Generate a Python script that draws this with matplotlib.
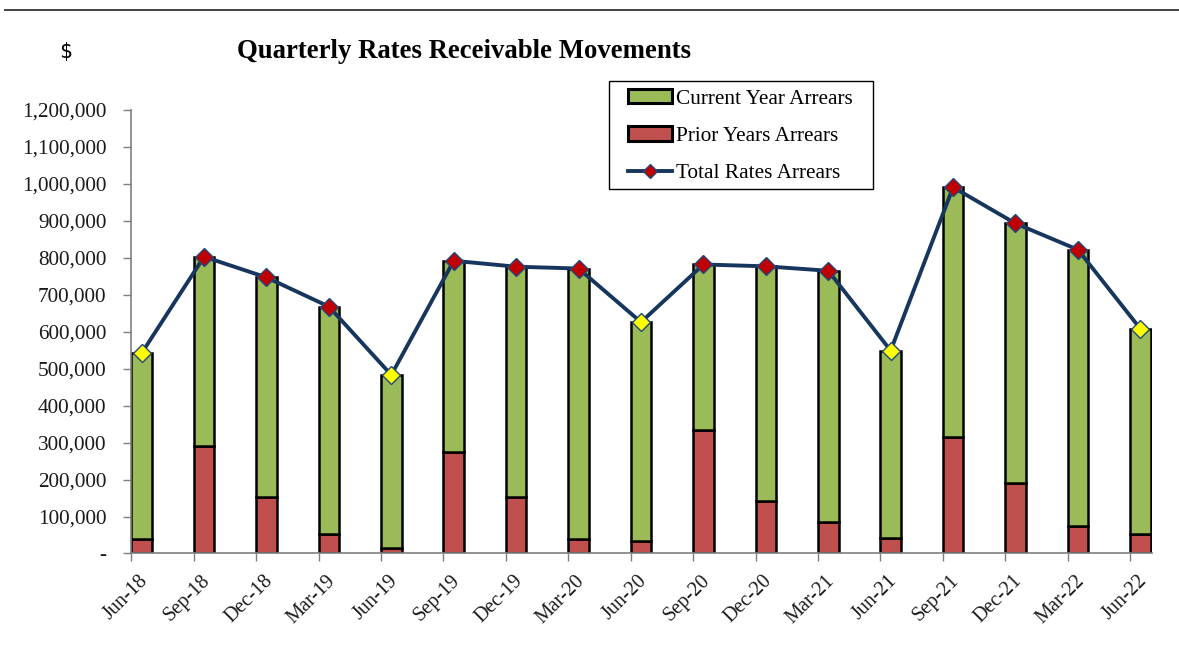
import matplotlib
matplotlib.use("Agg")
import matplotlib.pyplot as plt
import numpy as np
from matplotlib.ticker import FuncFormatter, FixedLocator, NullFormatter
from matplotlib.patches import Patch, Rectangle
from matplotlib.lines import Line2D

quarters = ["Jun-18", "Sep-18", "Dec-18", "Mar-19", "Jun-19", "Sep-19", "Dec-19", "Mar-20",
            "Jun-20", "Sep-20", "Dec-20", "Mar-21", "Jun-21", "Sep-21", "Dec-21", "Mar-22", "Jun-22"]
total_arrears = [542000, 803000, 747000, 668000, 483000, 792000, 776000, 771000,
                 626000, 782000, 777000, 765000, 549000, 991000, 893000, 822000, 608000]
prior_arrears = [40000, 291000, 153000, 52000, 16000, 274000, 152000, 38000,
                 33000, 335000, 141000, 85000, 42000, 316000, 190000, 74000, 53000]
current_arrears = [t - p for t, p in zip(total_arrears, prior_arrears)]

GREEN = "#9BBB59"
RED = "#C0504D"
NAVY = "#17365D"
SERIF = "Liberation Serif"

fig = plt.figure(figsize=(11.79, 6.56), dpi=100)
ax = fig.add_axes([0.1114, 0.1563, 0.977 - 0.1114, 0.8323 - 0.1563])

x = np.arange(len(quarters))
bw = 0.33
ax.bar(x, prior_arrears, width=bw, align="edge", color=RED, edgecolor="black", linewidth=1.8, zorder=2)
ax.bar(x, current_arrears, width=bw, bottom=prior_arrears, align="edge", color=GREEN,
       edgecolor="black", linewidth=1.8, zorder=2)

xc = x + bw / 2
ax.plot(xc, total_arrears, color=NAVY, linewidth=2.8, zorder=3)
face = ["#FFFF00" if q.startswith("Jun") else "#C00000" for q in quarters]
for xi, yi, fc in zip(xc, total_arrears, face):
    ax.plot([xi], [yi], marker="D", markersize=9.5, markerfacecolor=fc,
            markeredgecolor="#1F497D", markeredgewidth=1.0, zorder=4)

ax.set_xlim(0, 16.35)
ax.set_ylim(0, 1200000)
ax.set_yticks(np.arange(0, 1200001, 100000))
ax.yaxis.set_major_formatter(FuncFormatter(lambda v, p: "-" if v == 0 else f"{int(v):,}"))

# tick marks at category boundaries, labels placed near bar centres
ax.xaxis.set_major_locator(FixedLocator(x))
ax.xaxis.set_major_formatter(NullFormatter())
ax.xaxis.set_minor_locator(FixedLocator(xc - 0.05))
ax.set_xticklabels(quarters, minor=True, rotation=45, ha="right", va="top", rotation_mode="anchor")
ax.tick_params(axis="x", which="minor", length=0, pad=13)

for lab in ax.get_yticklabels():
    lab.set_fontfamily(SERIF)
    lab.set_fontsize(15.3)
    lab.set_color("#1a1a1a")
for lab in ax.get_xticklabels(minor=True):
    lab.set_fontfamily(SERIF)
    lab.set_fontsize(14.5)
    lab.set_color("#1a1a1a")

ax.tick_params(axis="both", which="major", direction="out", length=6, width=1, color="#7f7f7f")
ax.tick_params(axis="y", pad=12)
for s in ["top", "right"]:
    ax.spines[s].set_visible(False)
for s in ["left", "bottom"]:
    ax.spines[s].set_color("#7f7f7f")
    ax.spines[s].set_linewidth(1.2)

# top rule
fig.add_artist(Line2D([0.004, 1.0], [1 - 9.5 / 656, 1 - 9.5 / 656], color="#333333", linewidth=1.3,
                      transform=fig.transFigure))

fig.text(65 / 1179, 1 - 52 / 656, "$", fontsize=15, family="DejaVu Sans Mono", ha="center", va="center")
fig.text(237 / 1179, 1 - 51 / 656, "Quarterly Rates Receivable Movements", fontsize=19.3,
         fontweight="bold", family=SERIF, ha="left", va="center")

handles = [
    Patch(facecolor=GREEN, edgecolor="black", linewidth=2.2),
    Patch(facecolor=RED, edgecolor="black", linewidth=2.2),
    Line2D([0], [0], color=NAVY, linewidth=2.8, marker="D", markersize=7.5,
           markerfacecolor="#C00000", markeredgecolor="#1F497D"),
]
labels = ["Current Year Arrears", "Prior Years Arrears", "Total Rates Arrears"]
leg = fig.legend(handles, labels, loc="upper left", bbox_to_anchor=(628 / 1179, 1 - 89 / 656),
                 bbox_transform=fig.transFigure, prop={"family": SERIF, "size": 15.3},
                 frameon=False, borderpad=0, labelspacing=0.84, handlelength=2.05,
                 handletextpad=0.22, borderaxespad=0, handleheight=0.65)
fig.add_artist(Rectangle((609 / 1179, 1 - 189.3 / 656), (873 - 609) / 1179, (189.3 - 80.7) / 656,
                         transform=fig.transFigure, facecolor="none", edgecolor="black", linewidth=1.0))

fig.savefig("out.png", dpi=100)
